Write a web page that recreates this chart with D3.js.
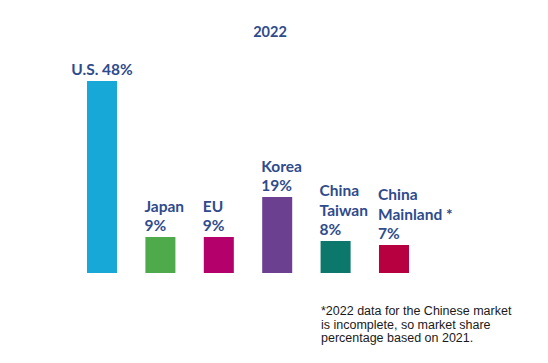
<!DOCTYPE html>
<html>
<head>
<meta charset="utf-8">
<script src="https://cdn.jsdelivr.net/npm/d3@7"></script>
<style>
  html, body { margin: 0; padding: 0; background: #ffffff; }
  svg { display: block; }
</style>
</head>
<body>
<svg id="chart" width="548" height="363"></svg>
<script>
// ---- data ----
const title = "2022";
const categories = ["U.S.", "Japan", "EU", "Korea", "China Taiwan", "China Mainland"];
const shares = [48, 9, 9, 19, 8, 7];
const labelLines = [
  ["U.S. 48%"],
  ["Japan", "9%"],
  ["EU", "9%"],
  ["Korea", "19%"],
  ["China", "Taiwan", "8%"],
  ["China", "Mainland *", "7%"]
];
const barColors = ["#17a8d8", "#4eaa4b", "#b4006b", "#6b4091", "#0b786b", "#b6003f"];
const footnoteLines = [
  "*2022 data for the Chinese market",
  "is incomplete, so market share",
  "percentage based on 2021."
];

// ---- drawing ----
const svg = d3.select("#chart");
const textColor = "#2f4b8c";

const x = d3.scaleBand()
  .domain(categories)
  .range([87, 409])
  .paddingInner(0.486)
  .paddingOuter(0);

const y = d3.scaleLinear()
  .domain([0, 48])
  .range([273, 81]);

svg.append("text")
  .attr("x", 270)
  .attr("y", 37)
  .attr("text-anchor", "middle")
  .attr("font-family", "Lato, 'Open Sans', sans-serif")
  .attr("font-weight", 700)
  .attr("font-size", 14.5)
  .attr("fill", textColor)
  .text(title);

svg.append("g")
  .selectAll("rect")
  .data(categories)
  .join("rect")
  .attr("x", d => x(d))
  .attr("width", x.bandwidth())
  .attr("y", (d, i) => y(shares[i]))
  .attr("height", (d, i) => y(0) - y(shares[i]))
  .attr("fill", (d, i) => barColors[i]);

const lineH = 19.5;
const lab = svg.append("g")
  .attr("font-family", "Lato, 'Open Sans', sans-serif")
  .attr("font-weight", 700)
  .attr("font-size", 15.5)
  .attr("fill", textColor);

categories.forEach((c, i) => {
  const lines = labelLines[i];
  const single = lines.length === 1;
  const baseY = y(shares[i]) - 6;
  const t = lab.append("text")
    .attr("text-anchor", single ? "middle" : "start");
  lines.forEach((ln, j) => {
    t.append("tspan")
      .attr("x", single ? x(c) + x.bandwidth() / 2 : x(c) - 1)
      .attr("y", baseY - (lines.length - 1 - j) * lineH)
      .text(ln);
  });
});

const fn = svg.append("text")
  .attr("font-family", "'Liberation Sans', Arial, sans-serif")
  .attr("font-size", 12.5)
  .attr("fill", "#1a1a1a");
footnoteLines.forEach((ln, j) => {
  fn.append("tspan")
    .attr("x", 321)
    .attr("y", 315 + j * 13.7)
    .text(ln);
});
</script>
</body>
</html>
